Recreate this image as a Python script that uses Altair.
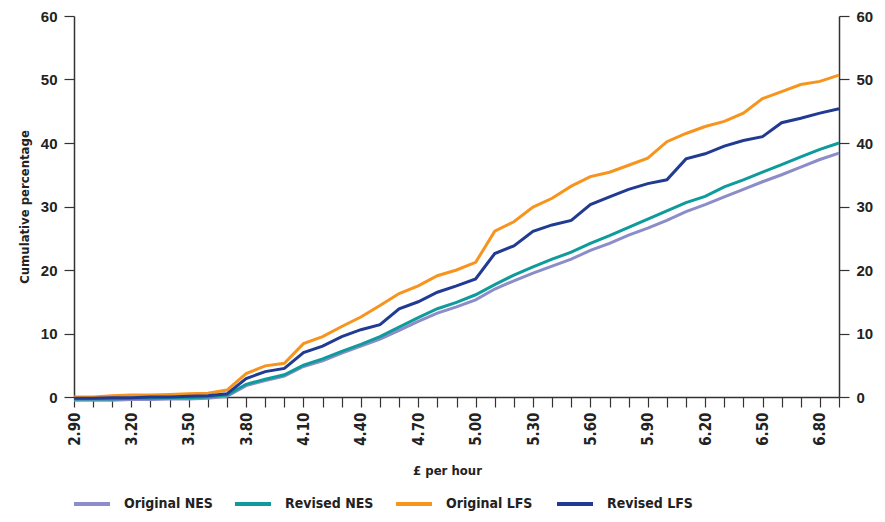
import altair as alt
import pandas as pd

hours = [2.90, 3.00, 3.10, 3.20, 3.30, 3.40, 3.50, 3.60, 3.70, 3.80,
         3.90, 4.00, 4.10, 4.20, 4.30, 4.40, 4.50, 4.60, 4.70, 4.80,
         4.90, 5.00, 5.10, 5.20, 5.30, 5.40, 5.50, 5.60, 5.70, 5.80,
         5.90, 6.00, 6.10, 6.20, 6.30, 6.40, 6.50, 6.60, 6.70, 6.80, 6.90]

orig_nes = [-0.5, -0.5, -0.5, -0.4, -0.4, -0.3, -0.3, -0.2, 0.1, 1.8,
            2.6, 3.3, 4.8, 5.7, 6.9, 8.0, 9.1, 10.5, 11.9, 13.2,
            14.2, 15.3, 17.0, 18.3, 19.5, 20.6, 21.7, 23.1, 24.2, 25.5,
            26.6, 27.8, 29.2, 30.3, 31.5, 32.7, 33.9, 35.0, 36.2, 37.4, 38.4]

rev_nes = [-0.3, -0.3, -0.3, -0.2, -0.2, -0.1, -0.1, 0.0, 0.3, 2.0,
           2.8, 3.5, 5.0, 6.0, 7.2, 8.3, 9.5, 11.0, 12.5, 13.9,
           14.9, 16.1, 17.7, 19.2, 20.5, 21.7, 22.8, 24.2, 25.4, 26.7,
           28.0, 29.3, 30.6, 31.6, 33.1, 34.2, 35.4, 36.6, 37.8, 39.0, 40.0]

orig_lfs = [0.0, 0.0, 0.2, 0.3, 0.3, 0.4, 0.5, 0.6, 1.1, 3.7,
            4.9, 5.3, 8.4, 9.5, 11.1, 12.6, 14.4, 16.3, 17.5, 19.1,
            20.0, 21.2, 26.1, 27.6, 29.9, 31.3, 33.2, 34.7, 35.4, 36.5,
            37.6, 40.2, 41.5, 42.6, 43.4, 44.7, 47.0, 48.1, 49.2, 49.7, 50.7]

rev_lfs = [-0.2, -0.2, -0.1, -0.1, 0.0, 0.0, 0.1, 0.2, 0.5, 2.9,
           4.0, 4.5, 7.0, 8.0, 9.5, 10.6, 11.4, 13.9, 15.0, 16.5,
           17.5, 18.6, 22.6, 23.8, 26.1, 27.1, 27.8, 30.3, 31.5, 32.7,
           33.6, 34.2, 37.5, 38.3, 39.5, 40.4, 41.0, 43.2, 43.9, 44.7, 45.4]

series_names = ["Original NES", "Revised NES", "Original LFS", "Revised LFS"]
series_colors = ["#8b8cc8", "#0f9b9b", "#f7941d", "#213b92"]
y_ticks = [0, 10, 20, 30, 40, 50, 60]

rows = []
for name, vals in zip(series_names, [orig_nes, rev_nes, orig_lfs, rev_lfs]):
    for h, v in zip(hours, vals):
        rows.append({"hour": h, "pct": v, "series": name})
df = pd.DataFrame(rows)

narrow = "Liberation Sans Narrow, DejaVu Sans Condensed, Arial Narrow, sans-serif"
bold = "Liberation Sans, Arial, sans-serif"

label_expr = "(round(datum.value*10) - 29) % 3 == 0 ? format(datum.value, '.2f') : ''"

base = alt.Chart(df)

lines = base.mark_line(strokeWidth=3).encode(
    x=alt.X("hour:Q",
            scale=alt.Scale(domain=[2.9, 6.9], nice=False, zero=False),
            axis=alt.Axis(values=hours, tickCount=100, labelExpr=label_expr,
                          title="£ per hour",
                          labelAngle=270, labelAlign="right", labelBaseline="middle",
                          labelPadding=5, labelFont=narrow, labelFontSize=15,
                          labelFontWeight="bold", labelOverlap=False,
                          titleFont=narrow, titleFontSize=13, titleFontWeight="bold",
                          titleX=373, titleY=73, titleBaseline="middle")),
    y=alt.Y("pct:Q",
            scale=alt.Scale(domain=[0, 60], nice=False),
            axis=alt.Axis(orient="left", values=y_ticks, title="Cumulative percentage",
                          labelFont=bold, labelFontSize=15, labelFontWeight="bold",
                          labelPadding=7, titleFont=narrow, titleFontSize=13,
                          titleFontWeight="bold", titlePadding=9)),
    color=alt.Color("series:N",
                    scale=alt.Scale(domain=series_names, range=series_colors),
                    sort=series_names,
                    legend=alt.Legend(title=None, orient="none", direction="horizontal",
                                      columns=4, gridAlign="all", legendX=-2, legendY=468,
                                      symbolType="stroke", symbolSize=1296,
                                      symbolStrokeWidth=4, labelOffset=12,
                                      columnPadding=14, labelFont=narrow,
                                      labelFontSize=14, labelFontWeight="bold",
                                      labelColor="#222")),
)

right = base.mark_line(opacity=0).encode(
    x=alt.X("hour:Q"),
    y=alt.Y("pct:Q",
            axis=alt.Axis(orient="right", values=y_ticks, title=None,
                          labelFont=bold, labelFontSize=15, labelFontWeight="bold",
                          labelPadding=7)),
)

chart = alt.layer(lines, right).resolve_axis(y="independent").properties(
    width=765, height=381,
    autosize=alt.AutoSizeParams(type="none"),
    padding={"left": 66, "top": 8, "right": 36, "bottom": 117},
).configure_view(stroke=None).configure_axis(
    grid=False, domainColor="#333", tickColor="#333", tickSize=10,
    domainWidth=1.5, tickWidth=1.2, labelColor="#222", titleColor="#222",
)

chart.save("out.html", embed_options={"renderer": "svg", "actions": False})
